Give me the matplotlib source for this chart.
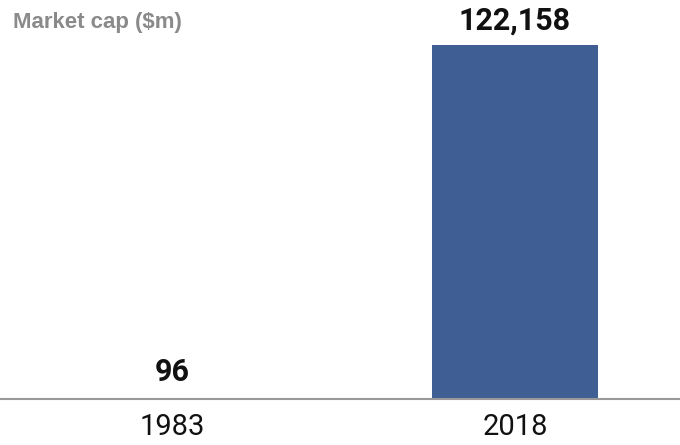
import matplotlib.pyplot as plt

years = ["1983", "2018"]
market_cap = [96, 122158]
value_labels = ["96", "122,158"]

fig = plt.figure(figsize=(6.8, 4.45), dpi=100)
ax = fig.add_axes([0, 1 - 399 / 445, 1, 399 / 445])

x = range(len(years))
ax.bar(x, market_cap, width=0.484, color="#3F5E94", zorder=2)
ax.set_xlim(-0.501, 1.481)
ax.set_ylim(0, 137700)

for xi, v, lab in zip(x, market_cap, value_labels):
    off = 11 if v > 20000 else 13
    ax.annotate(lab, (xi, v), xytext=(0, off), textcoords="offset points",
                ha="center", va="baseline", fontsize=22, fontweight="bold",
                color="#111111", family="Roboto")

for s in ["top", "right", "left"]:
    ax.spines[s].set_visible(False)
ax.spines["bottom"].set_color("#999999")
ax.spines["bottom"].set_linewidth(1.5)
ax.set_yticks([])
ax.set_xticks(list(x))
ax.set_xticklabels(years, fontsize=21, color="#111111",
                   family="Roboto", fontweight="normal")
ax.tick_params(axis="x", length=0, pad=10)

fig.text(13 / 680, 1 - 28 / 445, "Market cap ($m)", ha="left", va="baseline",
         fontsize=16, fontweight="bold", color="#8a8a8a", family="Liberation Sans")

fig.savefig("out.png", dpi=100)
